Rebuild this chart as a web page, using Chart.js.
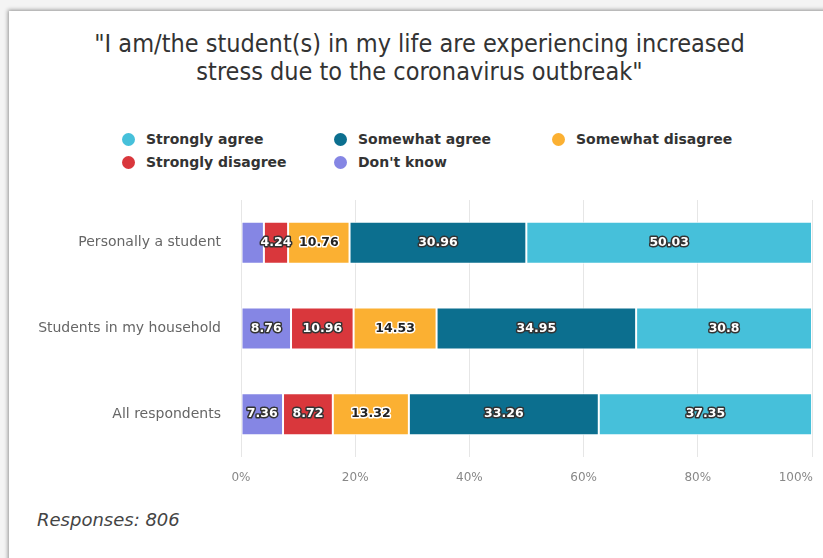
<!DOCTYPE html>
<html>
<head>
<meta charset="utf-8">
<script src="https://cdn.jsdelivr.net/npm/chart.js@4/dist/chart.umd.min.js"></script>
<style>
  html, body { margin: 0; padding: 0; background: #f4f4f4; }
  #wrap { position: relative; width: 823px; height: 558px; overflow: hidden; }
  #card {
    position: absolute; left: 9px; top: 11px; width: 900px; height: 700px;
    background: #fff; box-shadow: -1px -1px 4px rgba(0,0,0,0.4);
  }
  #title {
    position: absolute; left: 8px; top: 30px; width: 823px; text-align: center;
    font-family: 'DejaVu Sans Condensed', 'DejaVu Sans', sans-serif;
    font-size: 25px; line-height: 28px; color: #333;
  }
  #legend {
    position: absolute; left: 122px; top: 129px;
    display: grid; grid-template-columns: 212px 218px auto; row-gap: 3px;
    font-family: 'DejaVu Sans', sans-serif; font-weight: bold; font-size: 14px; color: #333;
  }
  #legend .item { display: flex; align-items: center; height: 20px; }
  #legend .dot { width: 13px; height: 13px; border-radius: 50%; margin-right: 11px; }
  #note {
    position: absolute; left: 37px; top: 509px;
    font-family: 'DejaVu Sans', sans-serif; font-style: italic; font-size: 18px; color: #444;
  }
  canvas { position: absolute; left: 0; top: 0; }
</style>
</head>
<body>
<div id="wrap">
  <div id="card"></div>
  <div id="title">"I am/the student(s) in my life are experiencing increased<br>stress due to the coronavirus outbreak"</div>
  <div id="legend"></div>
  <div id="note">Responses: 806</div>
  <canvas id="chart" width="823" height="558"></canvas>
</div>
<script>
const categories = ['Personally a student', 'Students in my household', 'All respondents'];

// stacked left to right
const dontKnow = [4.01, 8.76, 7.36];
const stronglyDisagree = [4.24, 10.96, 8.72];
const somewhatDisagree = [10.76, 14.53, 13.32];
const somewhatAgree = [30.96, 34.95, 33.26];
const stronglyAgree = [50.03, 30.8, 37.35];

const xTicks = [0, 20, 40, 60, 80, 100];

const series = [
  { label: "Don't know", data: dontKnow, color: '#8586e4', dark: true },
  { label: 'Strongly disagree', data: stronglyDisagree, color: '#d9373c', dark: true },
  { label: 'Somewhat disagree', data: somewhatDisagree, color: '#fbb032', dark: false },
  { label: 'Somewhat agree', data: somewhatAgree, color: '#0c6f8f', dark: true },
  { label: 'Strongly agree', data: stronglyAgree, color: '#46c0da', dark: true },
];

// legend (reverse order, like the original)
const legendEl = document.getElementById('legend');
series.slice().reverse().forEach(s => {
  const item = document.createElement('div');
  item.className = 'item';
  item.innerHTML = '<span class="dot" style="background:' + s.color + '"></span>' + s.label;
  legendEl.appendChild(item);
});

// value labels inside the bars, skipping ones that would overlap
const barLabels = {
  id: 'barLabels',
  afterDatasetsDraw(chart) {
    const ctx = chart.ctx;
    ctx.save();
    ctx.font = 'bold 12.5px "DejaVu Sans", sans-serif';
    ctx.textAlign = 'center';
    ctx.textBaseline = 'middle';
    ctx.lineJoin = 'round';
    const boxes = [];
    for (let d = chart.data.datasets.length - 1; d >= 0; d--) {
      const ds = chart.data.datasets[d];
      const meta = chart.getDatasetMeta(d);
      meta.data.forEach((bar, i) => {
        const text = String(ds.data[i]);
        const x = (bar.x + bar.base) / 2;
        const y = bar.y;
        const w = ctx.measureText(text).width;
        const box = { l: x - w / 2 - 1, r: x + w / 2 + 1, y };
        if (boxes.some(b => b.y === y && b.l < box.r && box.l < b.r)) return;
        boxes.push(box);
        const dark = series[d].dark;
        ctx.lineWidth = 3;
        ctx.strokeStyle = dark ? '#333' : '#fff';
        ctx.strokeText(text, x, y);
        ctx.fillStyle = dark ? '#fff' : '#222';
        ctx.fillText(text, x, y);
      });
    }
    ctx.restore();
  }
};

// x tick labels, last one kept inside the canvas
const xLabels = {
  id: 'xLabels',
  afterDraw(chart) {
    const ctx = chart.ctx;
    const scale = chart.scales.x;
    ctx.save();
    ctx.font = '12px "DejaVu Sans", sans-serif';
    ctx.fillStyle = '#888';
    ctx.textBaseline = 'middle';
    ctx.textAlign = 'left';
    xTicks.forEach(v => {
      const text = v + '%';
      const w = ctx.measureText(text).width;
      let x = scale.getPixelForValue(v) - w / 2;
      if (x + w > chart.width - 10) x = chart.width - 10 - w;
      ctx.fillText(text, x, chart.chartArea.bottom + 21);
    });
    ctx.restore();
  }
};

new Chart(document.getElementById('chart'), {
  type: 'bar',
  data: {
    labels: categories,
    datasets: series.map(s => ({
      label: s.label,
      data: s.data,
      backgroundColor: s.color,
      borderColor: '#fff',
      borderWidth: 1,
      borderSkipped: false,
      categoryPercentage: 1,
      barPercentage: 0.49,
    }))
  },
  options: {
    indexAxis: 'y',
    responsive: false,
    devicePixelRatio: 1,
    animation: false,
    layout: { padding: { top: 200, left: 0, right: 11, bottom: 101 } },
    scales: {
      x: {
        stacked: true,
        min: 0,
        max: 100,
        afterBuildTicks: (scale) => { scale.ticks = xTicks.map(v => ({ value: v })); },
        afterFit: (scale) => { scale.height = 0; scale.paddingLeft = 0; scale.paddingRight = 0; },
        grid: { color: '#e6e6e6', drawTicks: false },
        border: { display: false },
        ticks: { display: false },
      },
      y: {
        stacked: true,
        afterFit: (scale) => { scale.width = 241; },
        grid: { display: false, drawTicks: false },
        border: { display: false },
        ticks: {
          padding: 20,
          color: '#666',
          font: { family: "'DejaVu Sans', sans-serif", size: 14 },
        },
      }
    },
    plugins: {
      legend: { display: false },
      title: { display: false },
      tooltip: { enabled: false },
    }
  },
  plugins: [barLabels, xLabels]
});
</script>
</body>
</html>
